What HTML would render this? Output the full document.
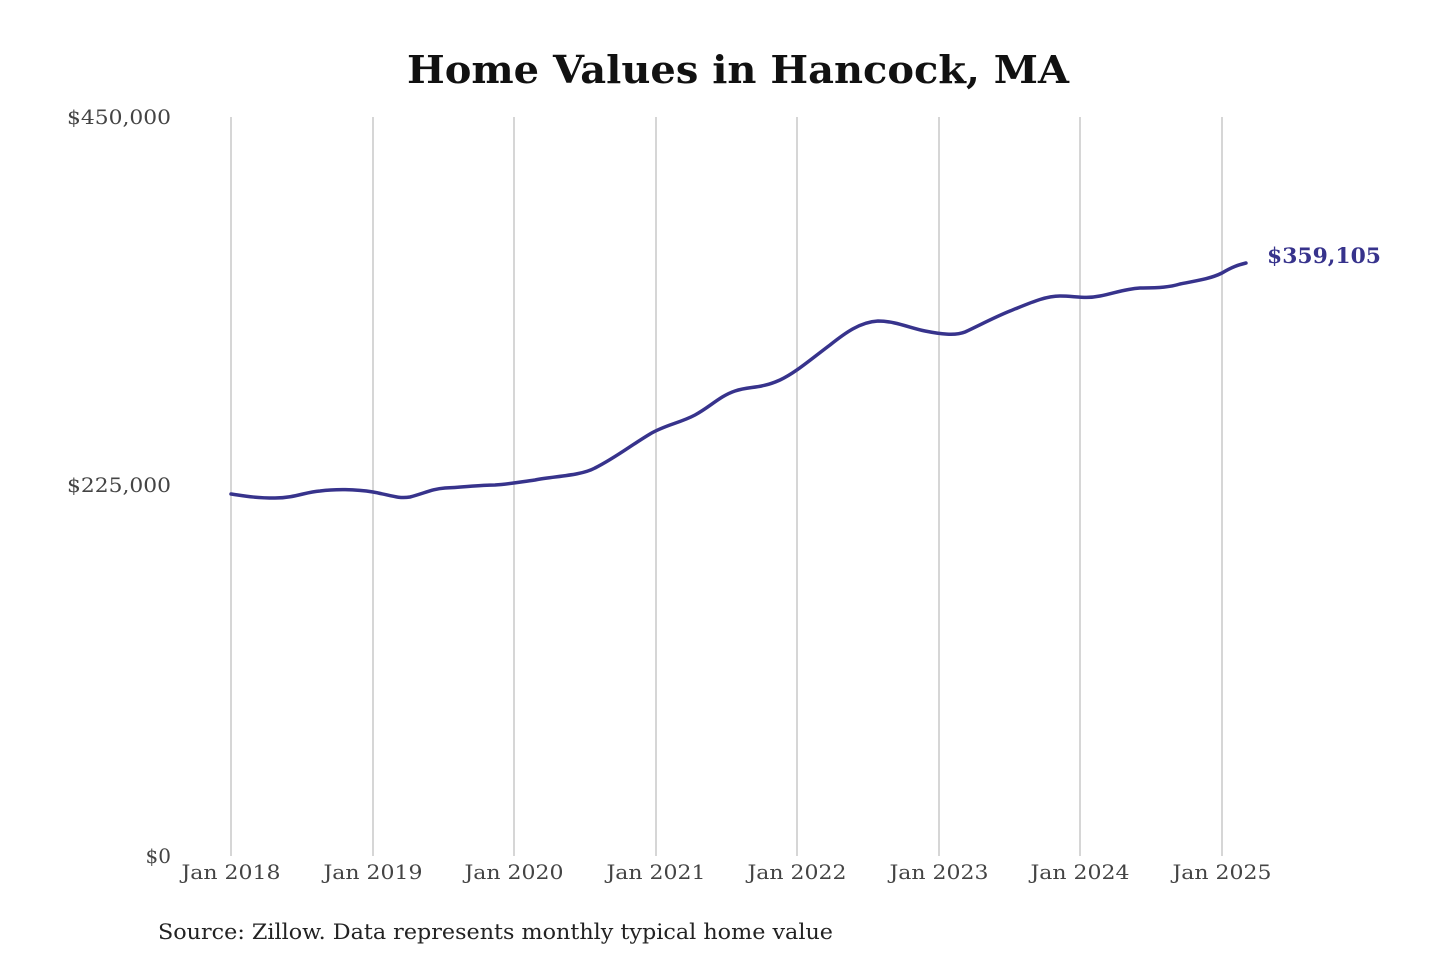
<!DOCTYPE html>
<html><head><meta charset="utf-8"><style>
html,body{margin:0;padding:0;background:#fff;}
svg{display:block;}
text{font-family:"DejaVu Serif","Liberation Serif",serif;}
</style></head><body>
<svg width="1440" height="960" viewBox="0 0 1440 960">
<rect width="1440" height="960" fill="#fff"/>
<text x="738" y="83" text-anchor="middle" font-size="38" font-weight="bold" fill="#111" textLength="662" lengthAdjust="spacingAndGlyphs">Home Values in Hancock, MA</text>
<g stroke="#bbb" stroke-width="1.2">
<line x1="231" y1="117" x2="231" y2="856"/>
<line x1="373" y1="117" x2="373" y2="856"/>
<line x1="514" y1="117" x2="514" y2="856"/>
<line x1="656" y1="117" x2="656" y2="856"/>
<line x1="797" y1="117" x2="797" y2="856"/>
<line x1="939" y1="117" x2="939" y2="856"/>
<line x1="1080" y1="117" x2="1080" y2="856"/>
<line x1="1222" y1="117" x2="1222" y2="856"/>
</g>
<g font-size="20" fill="#444">
<text x="171" y="124" text-anchor="end" textLength="104" lengthAdjust="spacingAndGlyphs">$450,000</text>
<text x="171" y="492" text-anchor="end" textLength="104" lengthAdjust="spacingAndGlyphs">$225,000</text>
<text x="171" y="863" text-anchor="end">$0</text>
<g text-anchor="middle">
<text x="231" y="879" textLength="99" lengthAdjust="spacingAndGlyphs">Jan 2018</text>
<text x="373" y="879" textLength="99" lengthAdjust="spacingAndGlyphs">Jan 2019</text>
<text x="514" y="879" textLength="99" lengthAdjust="spacingAndGlyphs">Jan 2020</text>
<text x="656" y="879" textLength="99" lengthAdjust="spacingAndGlyphs">Jan 2021</text>
<text x="797" y="879" textLength="99" lengthAdjust="spacingAndGlyphs">Jan 2022</text>
<text x="939" y="879" textLength="99" lengthAdjust="spacingAndGlyphs">Jan 2023</text>
<text x="1080" y="879" textLength="99" lengthAdjust="spacingAndGlyphs">Jan 2024</text>
<text x="1222" y="879" textLength="99" lengthAdjust="spacingAndGlyphs">Jan 2025</text>
</g>
</g>
<path fill="none" stroke="#37338c" stroke-width="3.5" stroke-linejoin="round" stroke-linecap="round"
d="M231,494 C245,496 255,498 275,498 C295,498 305,492 320,491 C335,489 355,489 373,492 C390,495 398,499 410,497 C425,493 432,489 445,488 C465,487 480,485 495,485 C510,484 520,482 535,480 C555,476 580,476 595,468 C615,458 630,446 650,434 C665,425 680,423 695,415 C710,407 720,396 735,391 C750,386 760,389 780,380 C795,373 810,360 830,345 C845,333 860,322 878,321 C895,321 910,328 925,331 C940,334 955,336 965,332 C980,325 995,317 1010,311 C1030,303 1045,296 1060,296 C1075,296 1085,299 1100,296 C1115,293 1125,289 1140,288 C1160,288 1170,287 1180,284 C1195,281 1210,279 1222,273 C1232,267 1238,265 1246,263"/>
<text x="1267" y="263" font-size="21" font-weight="bold" fill="#37338c" textLength="114" lengthAdjust="spacingAndGlyphs">$359,105</text>
<text x="158" y="939" font-size="21" fill="#222" textLength="675" lengthAdjust="spacingAndGlyphs">Source: Zillow. Data represents monthly typical home value</text>
</svg>
</body></html>
